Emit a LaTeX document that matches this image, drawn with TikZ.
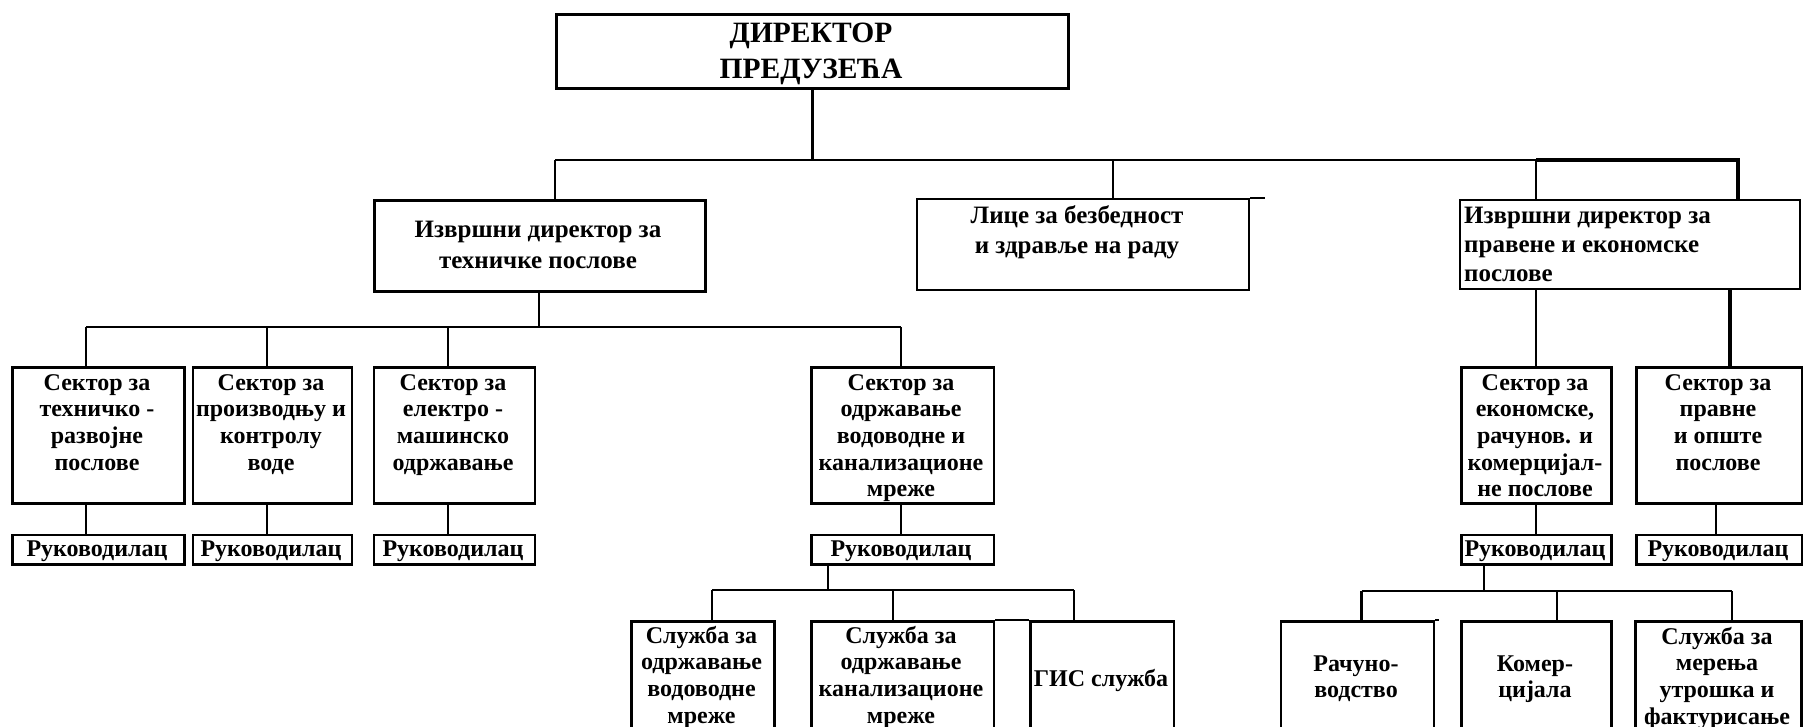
\documentclass[tikz,border=0pt]{standalone}
\usepackage{fontspec}
\setmainfont{Liberation Serif}
\newcommand{\mytab}[2][c]{\begin{tabular}[t]{@{}#1@{}}#2\end{tabular}}
\begin{document}
\begin{tikzpicture}[x=1pt,y=-1pt,
  box/.style={draw, line width=2.6pt, inner sep=0pt, anchor=north west},
  lbl/.style={inner sep=0pt, anchor=base, font=\bfseries\fontsize{24}{26.7}\selectfont},
  wire/.style={line width=2.2pt},
  thinwire/.style={line width=1.2pt}]
\useasboundingbox (0,0) rectangle (1812,726);
\fill[white] (0,0) rectangle (1812,726);
\begin{scope}
\clip (0,0) rectangle (1812,726);
% ---- boxes
\node[box, line width=3pt, minimum width=512pt, minimum height=74pt] (dir) at (555,13) {};
\node[box, minimum width=331pt, minimum height=91pt] (b1) at (373,199) {};
\node[box, line width=2pt, minimum width=332pt, minimum height=91pt] (b2) at (916,198) {};
\node[box, line width=2pt, minimum width=340pt, minimum height=89pt] (b3) at (1459,199) {};
\node[box, minimum width=172pt, minimum height=136pt] (s1) at (11,366) {};
\node[box, minimum width=159pt, minimum height=136pt] (s2) at (191.5,366) {};
\node[box, minimum width=161pt, minimum height=136pt] (s3) at (372.5,366) {};
\node[box, minimum width=182.5pt, minimum height=136pt] (s4) at (810,366) {};
\node[box, minimum width=150pt, minimum height=136pt] (e1) at (1460,366) {};
\node[box, minimum width=165.5pt, minimum height=136pt] (e2) at (1635,366) {};
\node[box, minimum width=172pt, minimum height=29.5pt] (r1) at (11,533.5) {};
\node[box, minimum width=159pt, minimum height=29.5pt] (r2) at (191.5,533.5) {};
\node[box, minimum width=161pt, minimum height=29.5pt] (r3) at (372.5,533.5) {};
\node[box, minimum width=182.5pt, minimum height=29.5pt] (r4) at (810,533.5) {};
\node[box, minimum width=150pt, minimum height=29.5pt] (re1) at (1460,533.5) {};
\node[box, minimum width=165.5pt, minimum height=29.5pt] (re2) at (1635,533.5) {};
\node[box, minimum width=143pt, minimum height=140pt] (k1) at (630,620) {};
\node[box, minimum width=182.5pt, minimum height=140pt] (k2) at (810,620) {};
\node[box, minimum width=143.5pt, minimum height=140pt] (gis) at (1029,620) {};
\node[box, minimum width=153pt, minimum height=140pt] (m1) at (1279.5,620) {};
\node[box, minimum width=150pt, minimum height=140pt] (m2) at (1460,620) {};
\node[box, minimum width=166pt, minimum height=140pt] (m3) at (1634,620) {};
% stray top-edge extensions
\draw[line width=2pt] (b2.north east) -- ++(15,0) coordinate (b2x);
\draw[wire] (k2.north east) -- (gis.north west);
\draw[wire] (m1.north east) -- ++(4,0) coordinate (m1x);
% ---- connectors, top level
\coordinate (t1) at (555,160);
\coordinate (t2) at (1113,160);
\coordinate (t3) at (1536,160);
\coordinate (t4) at (1738,160);
\draw[wire] (dir.south) -- (dir.south |- t1);
\draw[wire] (t1) -- (t3);
\draw[wire] (t1) -- (t1 |- b1.north);
\draw[wire] (t2) -- (t2 |- b2.north);
\draw[line width=2pt] (t3) -- (t3 |- b3.north);
\draw[line width=3.4pt] (t3) -- (t4) -- (t4 |- b3.north);
% ---- left subtree
\coordinate (bl) at (539,327);
\coordinate (js1) at (86,327);
\coordinate (js2) at (266.7,327);
\coordinate (js3) at (448.3,327);
\coordinate (js4) at (901,327);
\draw[wire] (bl |- b1.south) -- (bl);
\draw[wire] (js1) -- (js4);
\foreach \s/\r [count=\i] in {s1/r1, s2/r2, s3/r3, s4/r4}{
  \draw[wire] (js\i) -- (js\i |- \s.north);
  \draw[wire] (js\i |- \s.south) -- (js\i |- \r.north);
}
\coordinate (jk) at (828,590);
\coordinate (jk1) at (712,590);
\coordinate (jk2) at (893,590);
\coordinate (jk3) at (1074,590);
\draw[wire] (jk |- r4.south) -- (jk);
\draw[wire] (jk1) -- (jk3);
\draw[wire] (jk1) -- (jk1 |- k1.north);
\draw[wire] (jk2) -- (jk2 |- k2.north);
\draw[wire] (jk3) -- (jk3 |- gis.north);
% ---- right subtree
\coordinate (je1) at (1536,300);
\coordinate (je2) at (1730,300);
\coordinate (je3) at (1716,300);
\draw[line width=2pt] (je1 |- b3.south) -- (je1 |- e1.north);
\draw[line width=3.2pt] (je2 |- b3.south) -- (je2 |- e2.north);
\draw[wire] (je1 |- e1.south) -- (je1 |- re1.north);
\draw[wire] (je3 |- e2.south) -- (je3 |- re2.north);
\coordinate (jm) at (1484,591);
\coordinate (jm1) at (1361.5,591);
\coordinate (jm2) at (1557,591);
\coordinate (jm3) at (1732,591);
\draw[thinwire] (jm |- re1.south) -- (jm);
\draw[wire] (jm1) -- (jm3);
\draw[wire] (jm1) -- (jm1 |- m1.north);
\draw[wire] (jm2) -- (jm2 |- m2.north);
\draw[wire] (jm3) -- (jm3 |- m3.north);
% ---- texts
\node[lbl, font=\bfseries\fontsize{29.5}{36}\selectfont] (tdir) at (811,42.5) {\mytab{ДИРЕКТОР\\ПРЕДУЗЕЋА}};
\node[lbl, font=\bfseries\fontsize{25}{31}\selectfont] (tb1) at (538,237.5) {\mytab{Извршни директор за\\техничке послове}};
\node[lbl, font=\bfseries\fontsize{25}{30}\selectfont] (tb2) at (1077,223) {\mytab{Лице за безбедност\\и здравље на раду}};
\node[lbl, anchor=base west, font=\bfseries\fontsize{25}{29}\selectfont] (tb3) at (1464,223.3) {\mytab[l]{Извршни директор за\\правене и економске\\послове}};
\node[lbl] (ts1) at (97,390) {\mytab{Сектор за\\техничко -\\развојне\\послове}};
\node[lbl] (ts2) at (271,390) {\mytab{Сектор за\\производњу и\\контролу\\воде}};
\node[lbl] (ts3) at (453,390) {\mytab{Сектор за\\електро -\\машинско\\одржавање}};
\node[lbl] (ts4) at (901,390) {\mytab{Сектор за\\одржавање\\водоводне и\\канализационе\\мреже}};
\node[lbl] (te1) at (1535,390) {\mytab{Сектор за\\економске,\\рачунов. и\\комерцијал-\\не послове}};
\node[lbl] (te2) at (1718,390) {\mytab{Сектор за\\правне\\и опште\\послове}};
\node[lbl] (tr1) at (97,556.7) {Руководилац};
\node[lbl] (tr2) at (271,556.7) {Руководилац};
\node[lbl] (tr3) at (453,556.7) {Руководилац};
\node[lbl] (tr4) at (901,556.7) {Руководилац};
\node[lbl] (tre1) at (1535,556.7) {Руководилац};
\node[lbl] (tre2) at (1718,556.7) {Руководилац};
\node[lbl] (tk1) at (701.5,643) {\mytab{Служба за\\одржавање\\водоводне\\мреже}};
\node[lbl] (tk2) at (901,643) {\mytab{Служба за\\одржавање\\канализационе\\мреже}};
\node[lbl] (tgis) at (1101,686) {ГИС служба};
\node[lbl] (tm1) at (1356,671) {\mytab{Рачуно-\\водство}};
\node[lbl] (tm2) at (1535,671) {\mytab{Комер-\\цијала}};
\node[lbl] (tm3) at (1717,644) {\mytab{Служба за\\мерења\\утрошка и\\фактурисање}};
\end{scope}
\end{tikzpicture}
\end{document}
